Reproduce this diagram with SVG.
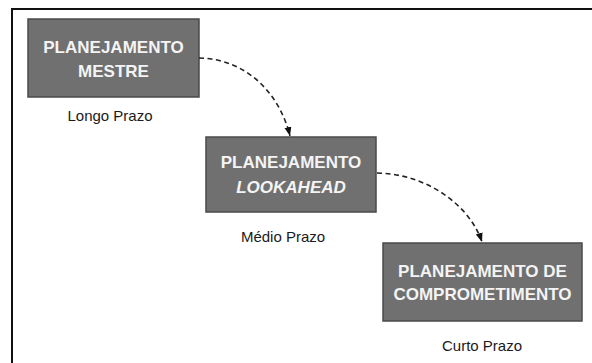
<svg xmlns="http://www.w3.org/2000/svg" width="592" height="363" viewBox="0 0 592 363">
<style>
.box{fill:#707070;stroke:#4a4a4a;stroke-width:1.5}
.t{font-family:"Liberation Sans",Arial,sans-serif;font-weight:bold;font-size:17px;fill:#f4f4f4;text-anchor:middle}
.lbl{font-family:"Liberation Sans",Arial,sans-serif;font-size:15px;fill:#1a1a1a;text-anchor:middle}
.c{fill:none;stroke:#222;stroke-width:1.6;stroke-dasharray:5,3.5}
</style>
<defs>
<marker id="ah" markerWidth="8" markerHeight="10" refX="9" refY="3.5" orient="auto" markerUnits="userSpaceOnUse"><path d="M0,0 L9,3.5 L0,7 Z" fill="#111"/></marker>
</defs>
<rect width="592" height="363" fill="#fff"/>
<path d="M12,363 V9 H592" fill="none" stroke="#111" stroke-width="2"/>
<g id="n1">
<rect class="box" x="28" y="19" width="171" height="78"/>
<text class="t" x="113.5" y="53">PLANEJAMENTO</text>
<text class="t" x="113.5" y="77">MESTRE</text>
<text class="lbl" x="110" y="121">Longo Prazo</text>
</g>
<g id="n2">
<rect class="box" x="206" y="137" width="170" height="75"/>
<text class="t" x="291" y="168">PLANEJAMENTO</text>
<text class="t" x="291" y="193" font-style="italic">LOOKAHEAD</text>
<text class="lbl" x="283" y="242">Médio Prazo</text>
</g>
<g id="n3">
<rect class="box" x="383" y="243" width="199" height="78"/>
<text class="t" x="482.5" y="277">PLANEJAMENTO DE</text>
<text class="t" x="482.5" y="300">COMPROMETIMENTO</text>
<text class="lbl" x="482" y="351">Curto Prazo</text>
</g>
<g id="connectors">
<path class="c" d="M199,58 C248,59 280,95 290,136" marker-end="url(#ah)"/>
<path class="c" d="M377,173 C428,174 470,206 482,242" marker-end="url(#ah)"/>
</g>
</svg>
